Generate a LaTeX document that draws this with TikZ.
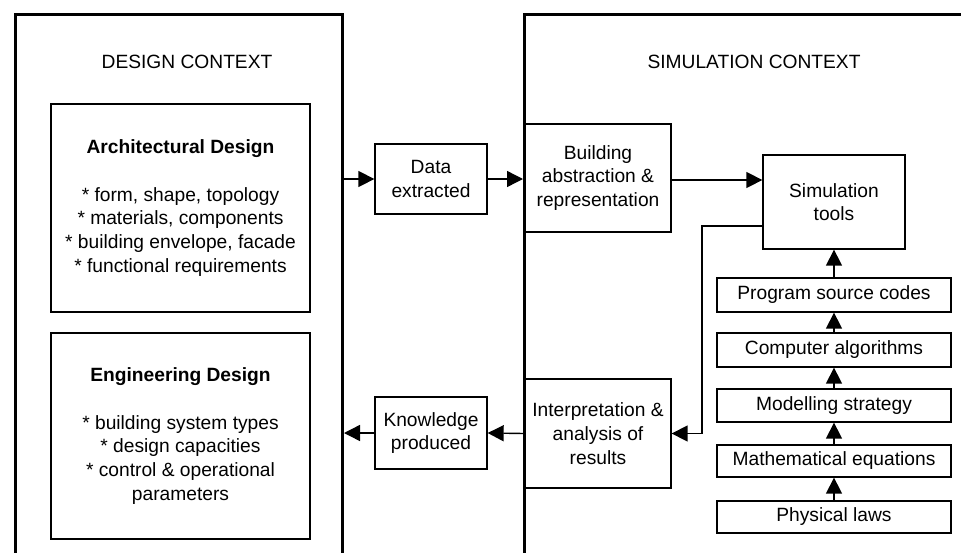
\documentclass[tikz,border=0pt]{standalone}
\usepackage{fontspec}
\setmainfont{Liberation Sans}
\usetikzlibrary{arrows.meta, positioning}

\begin{document}
\begin{tikzpicture}[x=1pt, y=-1pt, >={Triangle[length=16pt, width=16pt]},
    ctx/.style={draw, line width=3pt, anchor=north west, inner sep=0pt},
    box/.style={draw, line width=1.3pt, align=center, inner sep=0pt,
        font=\fontsize{19.2}{23.7}\selectfont},
    arr/.style={->, line width=1.4pt}]
    \clip (0,0) rectangle (961,552);

    % Define the two contexts
    \node[ctx, minimum width=327pt, minimum height=600pt] (design) at (14,13) {};
    \node[ctx, minimum width=480pt, minimum height=600pt] (simctx) at (523,13) {};
    \node[font=\fontsize{19.2}{22}\selectfont] (designtitle) at (187,62) {DESIGN CONTEXT};
    \node[font=\fontsize{19.2}{22}\selectfont] (simtitle) at (754,62) {SIMULATION CONTEXT};

    % Design boxes
    \node[box, minimum width=259pt, minimum height=208pt] (arch) at (180.5,208)
        {\textbf{Architectural Design}\\[24pt]
         * form, shape, topology\\ * materials, components\\
         * building envelope, facade\\ * functional requirements};
    \node[box, minimum width=259pt, minimum height=206pt] (eng) at (180.5,436)
        {\textbf{Engineering Design}\\[24pt]
         * building system types\\ * design capacities\\
         * control \& operational\\ parameters};

    % Exchange boxes
    \node[box, minimum width=112pt, minimum height=70pt] (data) at (431,179) {Data\\ extracted};
    \node[box, minimum width=112pt, minimum height=72pt] (know) at (431,433) {Knowledge\\ produced};

    % Simulation boxes
    \node[box, minimum width=146pt, minimum height=108pt] (build) at (598,178)
        {Building\\ abstraction \&\\ representation};
    \node[box, minimum width=146pt, minimum height=109pt] (interp) at (598,433.5)
        {Interpretation \&\\ analysis of\\ results};
    \node[box, minimum width=142pt, minimum height=94pt] (simtools) at (834,202)
        {Simulation\\ tools};

    % Stack of layers under the tools
    \node[box, minimum width=234pt, minimum height=34pt] (source) at (834,295) {Program source codes};
    \node[box, minimum width=234pt, minimum height=34pt] (algo) at (834,350) {Computer algorithms};
    \node[box, minimum width=234pt, minimum height=33pt] (model) at (834,405.5) {Modelling strategy};
    \node[box, minimum width=234pt, minimum height=32pt] (math) at (834,461) {Mathematical equations};
    \node[box, minimum width=234pt, minimum height=32pt] (laws) at (834,517) {Physical laws};

    % Draw arrows up the stack
    \draw[arr] (laws) -- (math);
    \draw[arr] (math) -- (model);
    \draw[arr] (model) -- (algo);
    \draw[arr] (algo) -- (source);
    \draw[arr] (source) -- (simtools);

    % Draw the forward flow
    \draw[arr] (design.east |- data.west) -- (data.west);
    \draw[arr] (data.east) -- (data.east -| simctx.west);
    \draw[arr] (build.east |- 0,180) -- (simtools.west |- 0,180);

    % Draw the feedback flow
    \coordinate (bend) at (702,226);
    \draw[arr] (simtools.west |- bend) -- (bend) |- (interp.east);
    \draw[arr] (interp.west) -- (know.east);
    \draw[arr] (know.west) -- (know.west -| design.east);
\end{tikzpicture}
\end{document}
